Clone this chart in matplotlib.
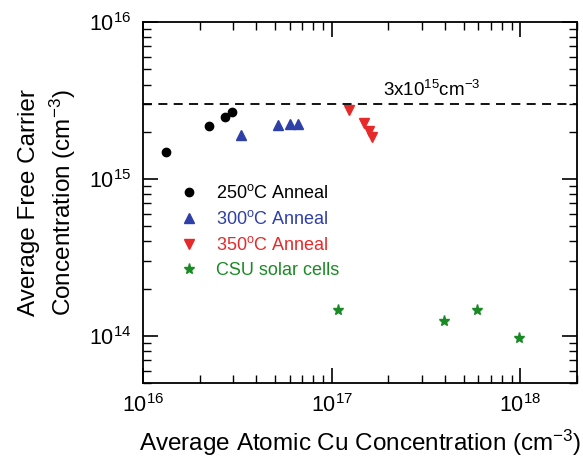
import numpy as np
import matplotlib
matplotlib.use("Agg")
import matplotlib.pyplot as plt

plt.rcParams['font.family'] = ['Liberation Sans', 'DejaVu Sans']
plt.rcParams['mathtext.fontset'] = 'custom'
plt.rcParams['mathtext.rm'] = 'Liberation Sans'
plt.rcParams['mathtext.it'] = 'Liberation Sans'
plt.rcParams['mathtext.default'] = 'regular'

# data
cu_250 = [1.33e16, 2.23e16, 2.71e16, 2.97e16]
n_250 = [1.49e15, 2.18e15, 2.48e15, 2.68e15]

cu_300 = [3.32e16, 5.17e16, 6.03e16, 6.65e16]
n_300 = [1.90e15, 2.20e15, 2.25e15, 2.25e15]

cu_350 = [1.23e17, 1.48e17, 1.58e17, 1.64e17]
n_350 = [2.74e15, 2.28e15, 2.02e15, 1.86e15]

cu_csu = [1.08e17, 3.96e17, 5.86e17, 9.85e17]
n_csu = [1.46e14, 1.24e14, 1.46e14, 9.76e13]

ref_level = 3e15

fig = plt.figure(figsize=(5.83, 4.61), dpi=100)
ax = fig.add_axes([0.245, 0.169, 0.745, 0.783])

ax.plot(cu_250, n_250, 'o', color='black', ms=6, label=r'250$^{o}$C Anneal')
ax.plot(cu_300, n_300, '^', color='#2e3fa8', ms=7, label=r'300$^{o}$C Anneal')
ax.plot(cu_350, n_350, 'v', color='#e62a2a', ms=7.5, label=r'350$^{o}$C Anneal')
ax.plot(cu_csu, n_csu, '*', color='#1a8a24', ms=8, label='CSU solar cells')

ax.axhline(ref_level, color='black', ls=(0, (5, 3.5)), lw=1.3)
ax.text(3.4e17, 3.4e15, r'3x10$^{15}$cm$^{-3}$', ha='center', va='baseline', fontsize=13.5)

ax.set_xscale('log')
ax.set_yscale('log')
ax.set_xlim(1e16, 2e18)
ax.set_ylim(5e13, 1e16)

ax.tick_params(which='both', direction='in', top=True, right=True, labelsize=15.5)
ax.tick_params(which='major', length=11, width=1.2, pad=8)
ax.tick_params(which='minor', length=5.5, width=1)
for s in ax.spines.values():
    s.set_linewidth(1.3)

ax.set_xlabel(r'Average Atomic Cu Concentration (cm$^{-3}$)', fontsize=17.5, labelpad=8)
ax.set_ylabel('Average Free Carrier\n' + r'Concentration (cm$^{-3}$)', fontsize=17.5,
              labelpad=8, linespacing=1.35)

leg = ax.legend(loc='upper left', bbox_to_anchor=(0.048, 0.597), frameon=False,
                fontsize=13, handlelength=1.0, handletextpad=1.0, labelspacing=0.45)
for txt, c in zip(leg.get_texts(), ['black', '#2e3fa8', '#e62a2a', '#1a8a24']):
    txt.set_color(c)

fig.savefig('out.png', dpi=100)
